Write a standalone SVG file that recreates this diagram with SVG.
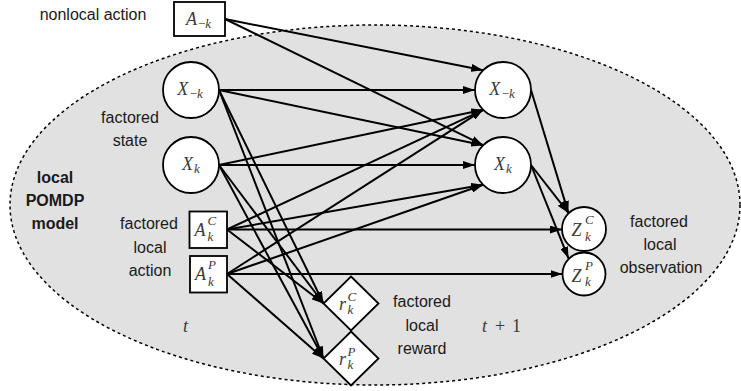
<svg xmlns="http://www.w3.org/2000/svg" width="741" height="391" viewBox="0 0 741 391">
<defs>
<style>
.lbl{font-family:"Liberation Sans",Arial,sans-serif;font-size:16px;fill:#1a1a1a;text-anchor:middle}
.bold{font-weight:bold}
.m{font-family:"Liberation Serif","Times New Roman",serif;font-size:18px;fill:#3a3a3a}
.it{font-style:italic}
.s{font-size:13px}
.node{fill:#fff;stroke:#000;stroke-width:1.8}
.edge{stroke:#000;stroke-width:2;fill:none;marker-end:url(#arr)}
</style>
<marker id="arr" markerWidth="12" markerHeight="8" refX="12" refY="4" orient="auto" markerUnits="userSpaceOnUse">
<path d="M0,0 L12,4 L0,8 z" fill="#000"/>
</marker>
</defs>
<rect width="741" height="391" fill="#fff"/>
<ellipse id="model-region" cx="375" cy="205" rx="365" ry="180" fill="#e1e1e1" stroke="#000" stroke-width="1.5" stroke-dasharray="3,3"/>

<g id="connectors">
<line class="edge" x1="225" y1="19" x2="483.2" y2="70.2"/>
<line class="edge" x1="225" y1="19" x2="483.2" y2="145.2"/>
<line class="edge" x1="219" y1="90" x2="475" y2="90"/>
<line class="edge" x1="219" y1="90" x2="483.2" y2="145.2"/>
<line class="edge" x1="219" y1="90" x2="323.5" y2="303.5"/>
<line class="edge" x1="219" y1="90" x2="323.5" y2="358.5"/>
<line class="edge" x1="219" y1="165" x2="483.2" y2="109.8"/>
<line class="edge" x1="219" y1="165" x2="475" y2="165"/>
<line class="edge" x1="219" y1="165" x2="323.5" y2="303.5"/>
<line class="edge" x1="219" y1="165" x2="323.5" y2="358.5"/>
<line class="edge" x1="227" y1="229.5" x2="483.2" y2="109.8"/>
<line class="edge" x1="227" y1="229.5" x2="483.2" y2="184.8"/>
<line class="edge" x1="227" y1="229.5" x2="562" y2="229.5"/>
<line class="edge" x1="227" y1="229.5" x2="323.5" y2="303.5"/>
<line class="edge" x1="227" y1="274" x2="483.2" y2="109.8"/>
<line class="edge" x1="227" y1="274" x2="483.2" y2="184.8"/>
<line class="edge" x1="227" y1="274" x2="562.5" y2="274"/>
<line class="edge" x1="227" y1="274" x2="323.5" y2="358.5"/>
<line class="edge" x1="531" y1="90" x2="568.4" y2="212.9"/>
<line class="edge" x1="531" y1="165" x2="568.4" y2="212.9"/>
<line class="edge" x1="531" y1="165" x2="568.6" y2="258.6"/>
</g>

<g id="n-amk">
<rect class="node" x="174" y="2" width="51" height="34"/>
<text class="m" x="198.5" y="25" text-anchor="middle"><tspan class="it">A</tspan><tspan class="s" dx="1" dy="3">−<tspan class="it">k</tspan></tspan></text>
</g>
<g id="n-xml">
<circle class="node" cx="191" cy="90" r="28"/>
<text class="m" x="190" y="95" text-anchor="middle"><tspan class="it">X</tspan><tspan class="s" dx="1.5" dy="3">−<tspan class="it">k</tspan></tspan></text>
</g>
<g id="n-xkl">
<circle class="node" cx="191" cy="165" r="28"/>
<text class="m" x="191" y="170" text-anchor="middle"><tspan class="it">X</tspan><tspan class="s it" dx="1" dy="3">k</tspan></text>
</g>
<g id="n-ac">
<rect class="node" x="189.5" y="211.5" width="37.5" height="36.5"/>
<text class="m it" x="194.5" y="235.5">A</text>
<text class="m it s" x="207.5" y="225">C</text>
<text class="m it s" x="207.5" y="241">k</text>
</g>
<g id="n-ap">
<rect class="node" x="190" y="256" width="37" height="36.5"/>
<text class="m it" x="195" y="280">A</text>
<text class="m it s" x="208" y="269">P</text>
<text class="m it s" x="208" y="285.5">k</text>
</g>
<g id="n-xmr">
<circle class="node" cx="503" cy="90" r="28"/>
<text class="m" x="502" y="95" text-anchor="middle"><tspan class="it">X</tspan><tspan class="s" dx="1.5" dy="3">−<tspan class="it">k</tspan></tspan></text>
</g>
<g id="n-xkr">
<circle class="node" cx="503" cy="165" r="28"/>
<text class="m" x="503" y="170" text-anchor="middle"><tspan class="it">X</tspan><tspan class="s it" dx="1" dy="3">k</tspan></text>
</g>
<g id="n-zc">
<circle class="node" cx="584" cy="229" r="22"/>
<text class="m it" x="571.5" y="236">Z</text>
<text class="m it s" x="585" y="224">C</text>
<text class="m it s" x="585" y="241">k</text>
</g>
<g id="n-zp">
<circle class="node" cx="584" cy="274" r="21.5"/>
<text class="m it" x="571.5" y="281.5">Z</text>
<text class="m it s" x="585" y="269.5">P</text>
<text class="m it s" x="585" y="286">k</text>
</g>
<g id="n-rc">
<polygon class="node" points="351,276.5 378.5,303.5 351,330.5 323.5,303.5"/>
<text class="m it" x="339" y="310">r</text>
<text class="m it s" x="347.5" y="300.5">C</text>
<text class="m it s" x="347.5" y="314">k</text>
</g>
<g id="n-rp">
<polygon class="node" points="351,331.5 378.5,358.5 351,385.5 323.5,358.5"/>
<text class="m it" x="339" y="365">r</text>
<text class="m it s" x="347.5" y="355.5">P</text>
<text class="m it s" x="347.5" y="369">k</text>
</g>

<g id="labels">
<text class="lbl" x="93" y="20">nonlocal action</text>
<text class="lbl" x="130" y="123">factored</text>
<text class="lbl" x="130" y="146">state</text>
<text class="lbl bold" x="55" y="183">local</text>
<text class="lbl bold" x="55" y="206">POMDP</text>
<text class="lbl bold" x="55" y="229">model</text>
<text class="lbl" x="149" y="229">factored</text>
<text class="lbl" x="150" y="252.5">local</text>
<text class="lbl" x="150" y="276">action</text>
<text class="lbl" x="422" y="307">factored</text>
<text class="lbl" x="422" y="331">local</text>
<text class="lbl" x="422" y="354">reward</text>
<text class="lbl" x="659" y="227">factored</text>
<text class="lbl" x="660" y="250">local</text>
<text class="lbl" x="661" y="273">observation</text>
<text class="m it" x="183" y="332">t</text>
<text class="m it" x="482" y="332">t</text>
<text class="m" x="495" y="332">+</text>
<text class="m" x="512" y="332">1</text>
</g>
</svg>
